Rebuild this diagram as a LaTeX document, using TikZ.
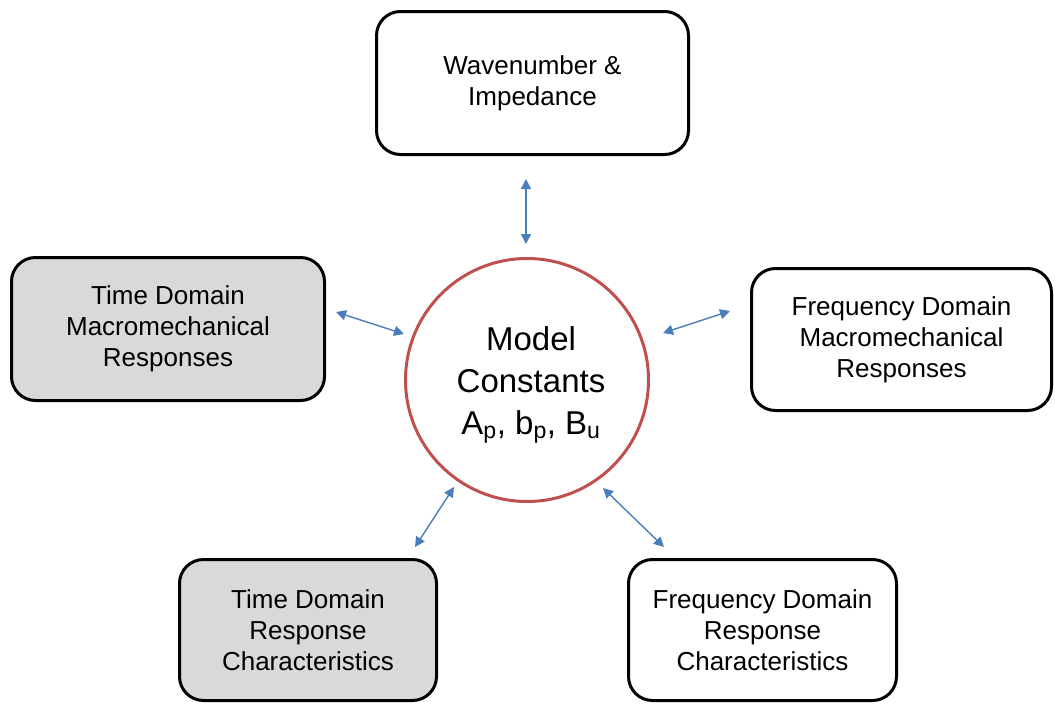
\documentclass[tikz,border=0pt]{standalone}
\usepackage{fontspec}
\setmainfont{Liberation Sans}
\usetikzlibrary{arrows.meta}
\definecolor{boxgray}{HTML}{D9D9D9}
\definecolor{linkblue}{HTML}{4A7EBB}
\definecolor{ringred}{HTML}{C0504D}
\tikzset{
  infobox/.style={draw=black, line width=3pt, rounded corners=24pt, align=center,
    inner sep=0pt, font=\fontsize{26}{31}\selectfont},
  shaded/.style={fill=boxgray},
  link/.style={draw=linkblue, line width=1.4pt,
    {Triangle[width=10pt,length=10pt]}-{Triangle[width=10pt,length=10pt]}}
}
\begin{document}
\begin{tikzpicture}[x=1pt,y=-1pt]
\useasboundingbox (0,0) rectangle (1055,704);

% central circle and its caption
\node[circle, draw=ringred, line width=3pt, minimum size=243pt, inner sep=0pt] (core) at (527,380) {};
\node[align=center, font=\fontsize{33}{42}\selectfont] (coretext) at (531,385)
  {Model\\Constants\\A\textsubscript{p}, b\textsubscript{p}, B\textsubscript{u}};

% surrounding boxes
\node[infobox, minimum width=312pt, minimum height=143pt] (wave) at (532.5,83)
  {Wavenumber \&\\Impedance};
\node[infobox, shaded, minimum width=313pt, minimum height=143pt] (tdm) at (168,329)
  {Time Domain\\Macromechanical\\Responses};
\node[infobox, minimum width=300pt, minimum height=142pt] (fdm) at (901.5,339.5)
  {Frequency Domain\\Macromechanical\\Responses};
\node[infobox, shaded, minimum width=257pt, minimum height=141pt] (tdr) at (308,630)
  {Time Domain\\Response\\Characteristics};
\node[infobox, minimum width=268pt, minimum height=141pt] (fdr) at (762.5,630)
  {Frequency Domain\\Response\\Characteristics};

% arrow ends
\coordinate (w1) at (526,179);  \coordinate (w2) at (526,244);
\coordinate (l1) at (336,312);  \coordinate (l2) at (404,334);
\coordinate (r1) at (663,333);  \coordinate (r2) at (730,311);
\coordinate (bl1) at (454,487); \coordinate (bl2) at (415,547);
\coordinate (br1) at (603,488); \coordinate (br2) at (664,547);

\draw[link] (w1) -- (w2);
\draw[link] (l1) -- (l2);
\draw[link] (r1) -- (r2);
\draw[link] (bl1) -- (bl2);
\draw[link] (br1) -- (br2);
\end{tikzpicture}
\end{document}
